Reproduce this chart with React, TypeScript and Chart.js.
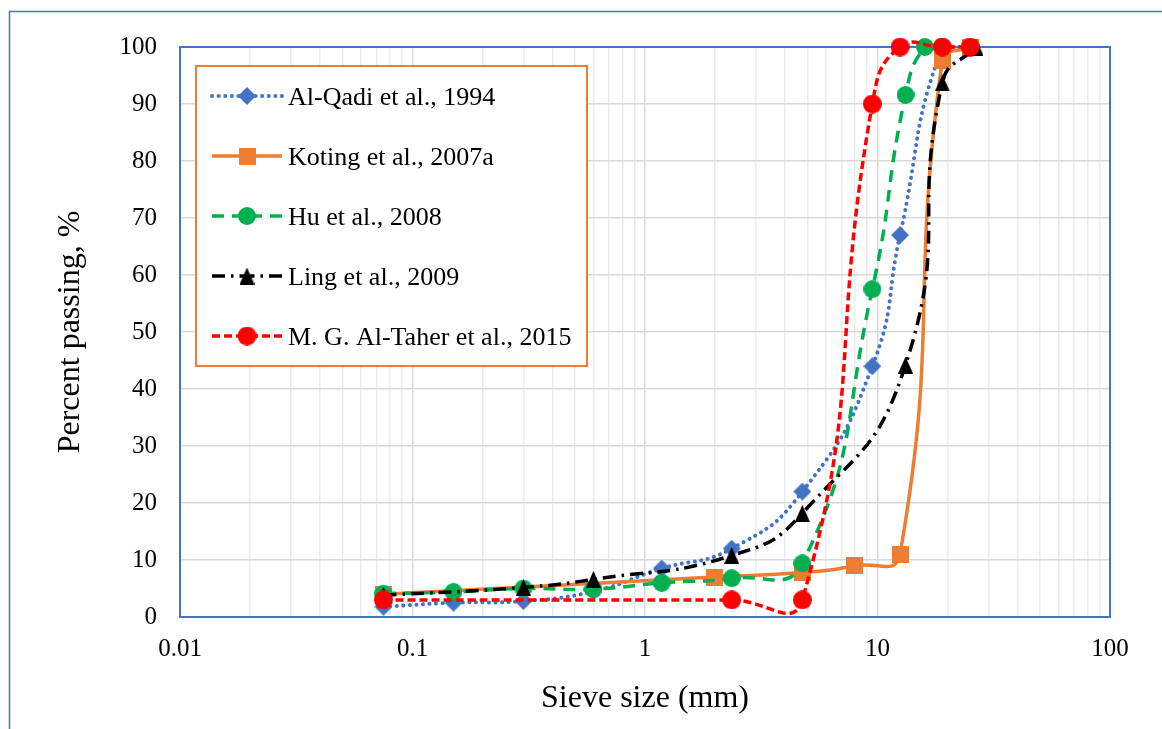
import React, { useEffect, useRef } from 'react';
import { Chart, registerables } from 'chart.js';
import { drawPoint } from 'chart.js/helpers';

Chart.register(...registerables);

// ---------- data ----------
const seriesLabels = [
  'Al-Qadi et al., 1994',
  'Koting et al., 2007a',
  'Hu et al., 2008',
  'Ling et al., 2009',
  'M. G. Al-Taher et al., 2015',
];

const alQadiSieve = [0.075, 0.15, 0.3, 0.6, 1.18, 2.36, 4.75, 9.5, 12.5, 19, 25];
const alQadiPass = [1.8, 2.5, 2.8, 4.5, 8.5, 12, 22, 44, 67, 100, 100];

const kotingSieve = [0.075, 2.0, 4.75, 8.0, 12.5, 19, 25];
const kotingPass = [4, 7, 7.8, 9, 11, 97.7, 100];

const huSieve = [0.075, 0.15, 0.3, 0.6, 1.18, 2.36, 4.75, 9.5, 13.2, 16, 19];
const huPass = [4.1, 4.4, 5.0, 4.9, 6, 6.8, 9.4, 57.5, 91.6, 100, 100];

const lingSieve = [0.075, 0.3, 0.6, 2.36, 4.75, 13.2, 19, 26.5];
const lingPass = [3.8, 5.2, 6.6, 10.8, 18.2, 44.2, 93.7, 100];

const alTaherSieve = [0.075, 2.36, 4.75, 9.5, 12.5, 19, 25];
const alTaherPass = [3, 3, 3, 90, 100, 100, 100];

const xDecades = [0.01, 0.1, 1, 10, 100];
const xTickLabels = ['0.01', '0.1', '1', '10', '100'];
const yMin = 0;
const yMax = 100;
const yStep = 10;

const xTitle = 'Sieve size (mm)';
const yTitle = 'Percent passing, %';

// ---------- styles ----------
const FONT = '"Liberation Serif", "Times New Roman", Times, serif';

const seriesStyles = [
  { color: '#4472C4', width: 4, dash: [0.1, 6.5], cap: 'round', shape: 'diamond', mw: 18, mh: 18, order: 5, capCurve: true },
  { color: '#ED7D31', width: 3.5, dash: [], cap: 'butt', shape: 'square', mw: 17, mh: 17, order: 4, capCurve: true },
  { color: '#00B050', width: 3.5, dash: [12, 8], cap: 'butt', shape: 'circle', mw: 18, mh: 18, order: 3, capCurve: true },
  { color: '#000000', width: 3.5, dash: [13, 6, 2.5, 6], cap: 'butt', shape: 'triangle', mw: 15, mh: 17, order: 2, capCurve: true },
  { color: '#FF0000', width: 3.5, dash: [8, 4], cap: 'butt', shape: 'circle', mw: 19, mh: 19, order: 1, capCurve: false },
];

const seriesX = [alQadiSieve, kotingSieve, huSieve, lingSieve, alTaherSieve];
const seriesY = [alQadiPass, kotingPass, huPass, lingPass, alTaherPass];

const isDecade = (v: number) => {
  const l = Math.log10(v);
  return Math.abs(l - Math.round(l)) < 1e-6;
};

function makeMarker(shape: string, color: string, w: number, h: number): HTMLCanvasElement {
  const c = document.createElement('canvas');
  c.width = w;
  c.height = h;
  const g = c.getContext('2d') as CanvasRenderingContext2D;
  g.fillStyle = color;
  g.beginPath();
  if (shape === 'circle') {
    g.ellipse(w / 2, h / 2, w / 2, h / 2, 0, 0, Math.PI * 2);
  } else if (shape === 'square') {
    g.rect(0, 0, w, h);
  } else if (shape === 'diamond') {
    g.moveTo(w / 2, 0);
    g.lineTo(w, h / 2);
    g.lineTo(w / 2, h);
    g.lineTo(0, h / 2);
    g.closePath();
  } else if (shape === 'triangle') {
    g.moveTo(w / 2, 0);
    g.lineTo(w, h);
    g.lineTo(0, h);
    g.closePath();
  }
  g.fill();
  return c;
}

const framePlugin = {
  id: 'outerFrame',
  beforeDraw(chart: any) {
    const { ctx, width, height } = chart;
    ctx.save();
    ctx.fillStyle = '#ffffff';
    ctx.fillRect(0, 0, width, height);
    ctx.strokeStyle = '#4472C4';
    ctx.lineWidth = 1.5;
    ctx.beginPath();
    ctx.moveTo(9.5, height + 2);
    ctx.lineTo(9.5, 11.5);
    ctx.lineTo(width + 2, 11.5);
    ctx.stroke();
    ctx.restore();
  },
};

const plotBorderPlugin = {
  id: 'plotBorder',
  beforeDatasetsDraw(chart: any) {
    const { ctx, chartArea: ca } = chart;
    ctx.save();
    ctx.strokeStyle = '#4472C4';
    ctx.lineWidth = 2;
    ctx.strokeRect(ca.left, ca.top, ca.right - ca.left, ca.bottom - ca.top);
    ctx.restore();
  },
};

const boxLegendPlugin = {
  id: 'boxLegend',
  afterDatasetsDraw(chart: any) {
    const { ctx, chartArea: ca } = chart;
    const bx = ca.left + 16;
    const by = ca.top + 19;
    const bw = 391;
    const bh = 300;
    ctx.save();
    ctx.fillStyle = '#ffffff';
    ctx.fillRect(bx, by, bw, bh);
    ctx.strokeStyle = '#ED7D31';
    ctx.lineWidth = 2;
    ctx.strokeRect(bx, by, bw, bh);
    chart.data.datasets.forEach((ds: any, i: number) => {
      const cy = by + 30 + i * 60;
      const x0 = bx + 16;
      const x1 = bx + 86;
      const xm = (x0 + x1) / 2;
      ctx.strokeStyle = ds.borderColor;
      ctx.lineWidth = ds.borderWidth;
      ctx.setLineDash(ds.borderDash || []);
      ctx.lineCap = ds.borderCapStyle || 'butt';
      ctx.beginPath();
      ctx.moveTo(x0, cy);
      ctx.lineTo(xm, cy);
      ctx.moveTo(x1, cy);
      ctx.lineTo(xm, cy);
      ctx.stroke();
      ctx.setLineDash([]);
      ctx.lineCap = 'butt';
      drawPoint(ctx, { pointStyle: ds.pointStyle, radius: ds.pointRadius, rotation: 0, borderWidth: 0 }, xm, cy);
      ctx.fillStyle = '#000000';
      ctx.font = `26px ${FONT}`;
      ctx.textAlign = 'left';
      ctx.textBaseline = 'alphabetic';
      ctx.fillText(ds.label, bx + 92, cy + 8.6);
    });
    ctx.restore();
  },
};

export default function App() {
  const canvasRef = useRef<HTMLCanvasElement | null>(null);

  useEffect(() => {
    const canvas = canvasRef.current;
    if (!canvas) return;

    const datasets = seriesLabels.map((label, i) => {
      const st = seriesStyles[i];
      const marker = makeMarker(st.shape, st.color, st.mw, st.mh);
      return {
        label,
        data: seriesX[i].map((x, j) => ({ x, y: seriesY[i][j] })),
        borderColor: st.color,
        backgroundColor: st.color,
        borderWidth: st.width,
        borderDash: st.dash,
        borderCapStyle: st.cap,
        pointStyle: marker,
        pointRadius: 8,
        pointHoverRadius: 8,
        pointBackgroundColor: st.color,
        pointBorderColor: st.color,
        pointBorderWidth: 0,
        tension: 0.5,
        capBezierPoints: st.capCurve,
        clip: false,
        order: st.order,
      };
    });

    const xGrid: number[] = [];
    for (let d = 0; d < xDecades.length; d++) {
      const base = xDecades[d];
      if (d === xDecades.length - 1) {
        xGrid.push(base);
      } else {
        for (let m = 1; m <= 9; m++) xGrid.push(base * m);
      }
    }

    const chart = new Chart(canvas, {
      type: 'line',
      data: { datasets } as any,
      options: {
        animation: false,
        responsive: false,
        events: [],
        layout: { padding: { left: 0, top: 47, right: 52, bottom: 0 } },
        plugins: {
          legend: { display: false },
          tooltip: { enabled: false },
        },
        scales: {
          x: {
            type: 'logarithmic',
            min: xDecades[0],
            max: xDecades[xDecades.length - 1],
            afterBuildTicks: (scale: any) => {
              scale.ticks = xGrid.map((v) => ({ value: v, major: isDecade(v) }));
            },
            afterFit: (scale: any) => {
              scale.height = 112;
            },
            ticks: {
              autoSkip: false,
              maxRotation: 0,
              minRotation: 0,
              padding: 17,
              color: '#000000',
              font: { family: FONT, size: 25 },
              callback: (value: any) => {
                const idx = xDecades.findIndex((d) => Math.abs(Math.log10(Number(value)) - Math.log10(d)) < 1e-6);
                return idx >= 0 ? xTickLabels[idx] : '';
              },
            },
            grid: {
              drawTicks: false,
              lineWidth: 1.5,
              color: (ctx: any) => (ctx.tick && isDecade(ctx.tick.value) ? '#d9d9d9' : '#ececec'),
            },
            border: { display: false },
            title: {
              display: true,
              text: xTitle,
              color: '#000000',
              font: { family: FONT, size: 32 },
              padding: { top: 0, bottom: 11 },
            },
          },
          y: {
            type: 'linear',
            min: yMin,
            max: yMax,
            afterFit: (scale: any) => {
              scale.width = 180;
            },
            ticks: {
              stepSize: yStep,
              padding: 23,
              color: '#000000',
              font: { family: FONT, size: 25 },
            },
            grid: {
              drawTicks: false,
              lineWidth: 1.5,
              color: '#d9d9d9',
            },
            border: { display: false },
            title: {
              display: true,
              text: yTitle,
              color: '#000000',
              font: { family: FONT, size: 32 },
              padding: { top: 51, bottom: 0 },
            },
          },
        },
      } as any,
      plugins: [framePlugin, plotBorderPlugin, boxLegendPlugin],
    });

    return () => {
      chart.destroy();
    };
  }, []);

  return (
    <div style={{ position: 'fixed', left: 0, top: 0, width: 1162, height: 729, overflow: 'hidden', background: '#ffffff' }}>
      <canvas ref={canvasRef} width={1162} height={729} style={{ display: 'block', width: 1162, height: 729 }} />
    </div>
  );
}
